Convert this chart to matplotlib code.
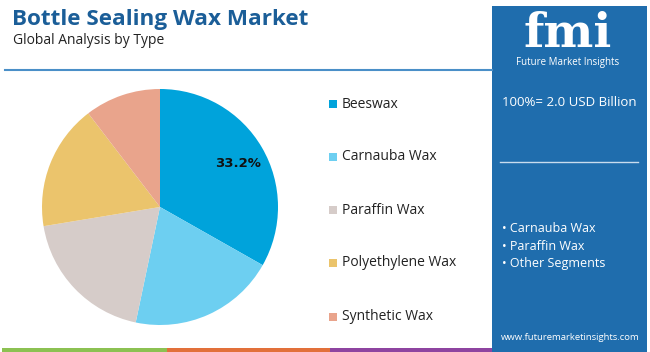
import matplotlib
matplotlib.use("Agg")
import matplotlib.pyplot as plt
from matplotlib.patches import Rectangle

categories = ["Beeswax", "Carnauba Wax", "Paraffin Wax", "Polyethylene Wax", "Synthetic Wax"]
shares = [33.2, 20.1, 19.1, 17.2, 10.4]
colors = ["#00a3db", "#6dcff1", "#d6ccc9", "#ebc46c", "#e9a48c"]
label_text = "33.2%"
title = "Bottle Sealing Wax Market"
subtitle = "Global Analysis by Type"
total_text = "100%= 2.0 USD Billion"
key_segments = ["Carnauba Wax", "Paraffin Wax", "Other Segments"]
website = "www.futuremarketinsights.com"

W, H = 650, 352
fig = plt.figure(figsize=(W / 100, H / 100), dpi=100)
fig.patch.set_facecolor("white")

def px(x, y):
    return x / W, 1 - y / H

plt.rcParams["font.family"] = ["Open Sans", "DejaVu Sans"]

# Title
fig.text(*px(12, 20), title, fontsize=16.2, fontweight="bold", color="#1b5e98",
         va="center", ha="left")
fig.text(*px(13, 41), subtitle, fontsize=10, color="#222222", va="center", ha="left")

# Line under title
fig.add_artist(plt.Line2D([5 / W, 492 / W], [1 - 70 / H] * 2, color="#4a8fc8", lw=1.5))

# Bottom colored bars
for x0, x1, c in [(2, 167, "#8cc152"), (167, 330, "#e2703a"), (330, 494, "#8e44a0")]:
    fig.add_artist(Rectangle((x0 / W, 0), (x1 - x0) / W, 4 / H, color=c, lw=0))

# Right panel
fig.add_artist(Rectangle((492 / W, 0), (647 - 492) / W, (352 - 6) / H, color="#1f6dad", lw=0))
fig.text(*px(568, 34), "fmi", fontsize=34, fontweight="bold", color="white",
         family="DejaVu Serif", ha="center", va="center")
fig.text(*px(568, 62), "Future Market Insights", fontsize=7, color="white",
         ha="center", va="center")
fig.text(*px(569, 103), total_text, fontsize=9.5, color="white", ha="center", va="center")
fig.add_artist(plt.Line2D([500 / W, 638 / W], [1 - 162 / H] * 2, color="#c8dcee", lw=1))
for i, s in enumerate(key_segments):
    fig.text(*px(502, 229 + i * 17), "\u2022 " + s, fontsize=9, color="white",
             ha="left", va="center")
fig.text(*px(570, 337), website, fontsize=6.8, color="white", ha="center", va="center")

# Pie
cx, cy, r = 160, 207, 118
ax = fig.add_axes([(cx - r) / W, 1 - (cy + r) / H, 2 * r / W, 2 * r / H])
wedges, _ = ax.pie(shares, colors=colors, startangle=90, counterclock=False,
                   wedgeprops=dict(linewidth=0))
ax.set_aspect("equal")
ax.set_xlim(-1, 1)
ax.set_ylim(-1, 1)
ax.axis("off")
ax.text(0.66, 0.37, label_text, fontsize=9.5, fontweight="bold", color="#111111",
        ha="center", va="center", family="DejaVu Sans")

# Legend
ys = [104, 157, 210, 263, 317]
for cat, c, y in zip(categories, colors, ys):
    fig.add_artist(Rectangle((329 / W, 1 - (y + 4) / H), 8 / W, 8 / H, color=c, lw=0))
    fig.text(*px(342, y), cat, fontsize=10, color="#222222", ha="left", va="center")

fig.savefig("out.png", dpi=100, facecolor="white")
